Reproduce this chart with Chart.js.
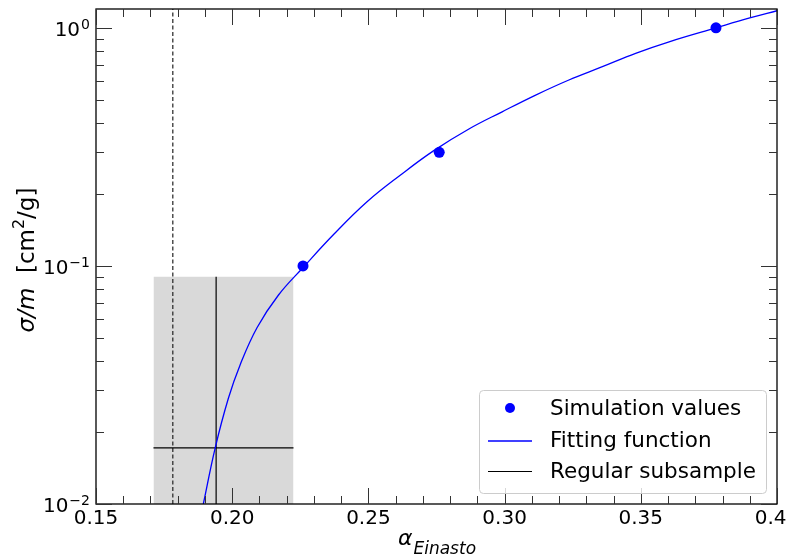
<!DOCTYPE html>
<html>
<head>
<meta charset="utf-8">
<script src="https://cdn.jsdelivr.net/npm/chart.js@4.4.1/dist/chart.umd.min.js"></script>
<style>
    html, body { margin: 0; padding: 0; background: #fff; }
    canvas { display: block; }
</style>
</head>
<body>
<canvas id="chart" width="787" height="558"></canvas>
<script>
/* 1. 데이터 */
const simX = [0.226, 0.276, 0.3776];
const simY = [0.10, 0.30, 1.0];

const fitX = [0.1894, 0.1937, 0.1986, 0.2029, 0.2091, 0.2170, 0.2262, 0.2373, 0.2495, 0.2618, 0.2740,
              0.2869, 0.2991, 0.3114, 0.3236, 0.3359, 0.3481, 0.3604, 0.3776, 0.3900, 0.4000];
const fitY = [0.0100, 0.0171, 0.0278, 0.0384, 0.0550, 0.0755, 0.0990, 0.1358, 0.186, 0.241, 0.305,
              0.376, 0.444, 0.522, 0.604, 0.687, 0.782, 0.874, 1.000, 1.10, 1.18];

// regular subsample: 중앙값 + 범위
const subCenter = { x: 0.1941, y: 0.0172 };
const subXRange = [0.1711, 0.2225];
const subYRange = [0.010, 0.090];

const dashedX = 0.1782;

// 축
const xMin = 0.15, xMax = 0.40;
const yMin = 0.01, yMax = 1.2;
const xMajorTicks = [0.15, 0.20, 0.25, 0.30, 0.35, 0.40];
const xTickLabels = ['0.15', '0.20', '0.25', '0.30', '0.35', '0.40'];
const xMinorStep = 0.01;
const yMajorTicks = [0.01, 0.1, 1];
const yTickExps = ['\u22122', '\u22121', '0'];
const yMinorMult = [2, 3, 4, 5, 6, 7, 8, 9];

const legendLabels = ['Simulation values', 'Fitting function', 'Regular subsample'];

const BLUE = '#0000ff';
const FONT = '"DejaVu Sans", sans-serif';

/* 2. 데이터셋 구성 (index 0 이 맨 위에 그려짐) */
const toXY = (xs, ys) => xs.map((x, i) => ({ x: x, y: ys[i] }));

const datasets = [
    {
        label: legendLabels[0],
        data: toXY(simX, simY),
        showLine: false,
        pointRadius: 5.5,
        pointBackgroundColor: BLUE,
        pointBorderWidth: 0,
        backgroundColor: BLUE
    },
    {
        label: legendLabels[1],
        data: toXY(fitX, fitY),
        showLine: true,
        borderColor: BLUE,
        borderWidth: 1.3,
        pointRadius: 0,
        tension: 0.4
    },
    {
        label: legendLabels[2],
        data: [{ x: subCenter.x, y: subYRange[0] }, { x: subCenter.x, y: subYRange[1] }],
        showLine: true,
        borderColor: '#000',
        borderWidth: 1.2,
        pointRadius: 0
    },
    {
        label: '_sub_h',
        data: [{ x: subXRange[0], y: subCenter.y }, { x: subXRange[1], y: subCenter.y }],
        showLine: true,
        borderColor: '#000',
        borderWidth: 1.2,
        pointRadius: 0
    },
    {
        label: '_dashed',
        data: [{ x: dashedX, y: yMin }, { x: dashedX, y: yMax }],
        showLine: true,
        borderColor: '#222',
        borderWidth: 1.2,
        borderDash: [4, 2.5],
        pointRadius: 0
    },
    {
        label: '_box',
        data: [{ x: subXRange[0], y: subYRange[1] }, { x: subXRange[1], y: subYRange[1] }],
        showLine: true,
        borderWidth: 0,
        borderColor: 'rgba(0,0,0,0)',
        backgroundColor: '#d9d9d9',
        fill: 'start',
        pointRadius: 0
    }
];

/* 3. matplotlib 스타일 축/눈금/범례 플러그인 */
const axesPlugin = {
    id: 'mplAxes',
    afterDraw(chart) {
        const ctx = chart.ctx;
        const a = chart.chartArea;
        const xs = chart.scales.x, ys = chart.scales.y;
        ctx.save();

        // 프레임
        ctx.strokeStyle = '#000';
        ctx.lineWidth = 1.3;
        ctx.strokeRect(a.left, a.top, a.right - a.left, a.bottom - a.top);

        // 눈금 (안쪽 방향, 4면)
        ctx.lineWidth = 1;
        ctx.strokeStyle = '#333';
        const tick = (x1, y1, x2, y2) => {
            ctx.beginPath(); ctx.moveTo(x1, y1); ctx.lineTo(x2, y2); ctx.stroke();
        };
        const MAJ = 16, MIN = 8;
        for (let v = xMin; v <= xMax + 1e-9; v += xMinorStep) {
            const isMajor = xMajorTicks.some(t => Math.abs(t - v) < 1e-6);
            const px = Math.round(xs.getPixelForValue(v)) + 0.5;
            const len = isMajor ? MAJ : MIN;
            tick(px, a.bottom, px, a.bottom - len);
            tick(px, a.top, px, a.top + len);
        }
        yMajorTicks.forEach(t => {
            const py = Math.round(ys.getPixelForValue(t)) + 0.5;
            tick(a.left, py, a.left + MAJ, py);
            tick(a.right, py, a.right - MAJ, py);
            yMinorMult.forEach(m => {
                const v = t * m;
                if (v > yMax) return;
                const pm = Math.round(ys.getPixelForValue(v)) + 0.5;
                tick(a.left, pm, a.left + MIN, pm);
                tick(a.right, pm, a.right - MIN, pm);
            });
        });

        // x 눈금 라벨
        ctx.fillStyle = '#000';
        ctx.font = '20px ' + FONT;
        ctx.textAlign = 'center';
        ctx.textBaseline = 'alphabetic';
        xMajorTicks.forEach((t, i) => {
            ctx.fillText(xTickLabels[i], xs.getPixelForValue(t), a.bottom + 20);
        });

        // y 눈금 라벨 (10^n)
        yMajorTicks.forEach((t, i) => {
            const py = ys.getPixelForValue(t);
            const right = a.left - 6;
            ctx.font = '14px ' + FONT;
            const ew = ctx.measureText(yTickExps[i]).width;
            ctx.textAlign = 'right';
            ctx.fillText(yTickExps[i], right, py + 1);
            ctx.font = '20px ' + FONT;
            ctx.fillText('10', right - ew - 1, py + 8);
        });

        // x 축 제목: α_Einasto
        ctx.textAlign = 'left';
        ctx.font = 'italic 22px ' + FONT;
        const aw = ctx.measureText('\u03b1').width;
        ctx.font = 'italic 17px ' + FONT;
        const ew2 = ctx.measureText('Einasto').width;
        const cx = (a.left + a.right) / 2;
        const x0 = cx - (aw + ew2) / 2;
        ctx.font = 'italic 22px ' + FONT;
        ctx.fillText('\u03b1', x0, 545);
        ctx.font = 'italic 17px ' + FONT;
        ctx.fillText('Einasto', x0 + aw + 1, 554);

        // y 축 제목: σ/m  [cm²/g]
        ctx.save();
        ctx.translate(34, 260);
        ctx.rotate(-Math.PI / 2);
        const parts = [
            { t: '\u03c3/m', f: 'italic 23px ', dy: 0 },
            { t: '  [cm', f: '23px ', dy: 0 },
            { t: '2', f: '16px ', dy: -10 },
            { t: '/g]', f: '23px ', dy: 0 }
        ];
        let total = 0;
        parts.forEach(p => { ctx.font = p.f + FONT; p.w = ctx.measureText(p.t).width; total += p.w; });
        let px = -total / 2;
        parts.forEach(p => {
            ctx.font = p.f + FONT;
            ctx.fillText(p.t, px, p.dy);
            px += p.w;
        });
        ctx.restore();

        // 범례 (오른쪽 아래, 둥근 테두리)
        const lx = 479.5, ly = 390.5, lw = 287, lh = 103;
        ctx.fillStyle = 'rgba(255,255,255,0.8)';
        ctx.strokeStyle = '#cccccc';
        ctx.lineWidth = 1;
        ctx.beginPath();
        ctx.roundRect(lx, ly, lw, lh, 4);
        ctx.fill();
        ctx.stroke();

        const rows = [408, 440.5, 471];
        const metas = chart.data.datasets;
        ctx.font = '21.5px ' + FONT;
        ctx.textAlign = 'left';
        ctx.textBaseline = 'middle';
        legendLabels.forEach((lab, i) => {
            const ds = metas[i];
            const ry = rows[i];
            if (i === 0) {
                ctx.fillStyle = ds.pointBackgroundColor;
                ctx.beginPath();
                ctx.arc(510, ry, 5, 0, Math.PI * 2);
                ctx.fill();
            } else {
                ctx.strokeStyle = ds.borderColor;
                ctx.lineWidth = ds.borderWidth;
                ctx.beginPath();
                ctx.moveTo(488, ry + 0.5);
                ctx.lineTo(532, ry + 0.5);
                ctx.stroke();
            }
            ctx.fillStyle = '#000';
            ctx.fillText(lab, 550, ry + 1);
        });

        ctx.restore();
    }
};

/* 4. 차트 생성 */
new Chart(document.getElementById('chart').getContext('2d'), {
    type: 'scatter',
    data: { datasets: datasets },
    options: {
        responsive: false,
        animation: false,
        devicePixelRatio: 1,
        layout: { padding: { left: 96, top: 9, right: 10, bottom: 54 } },
        plugins: {
            legend: { display: false },
            tooltip: { enabled: false }
        },
        scales: {
            x: { type: 'linear', min: xMin, max: xMax, display: false },
            y: { type: 'logarithmic', min: yMin, max: yMax, display: false }
        }
    },
    plugins: [axesPlugin]
});
</script>
</body>
</html>
